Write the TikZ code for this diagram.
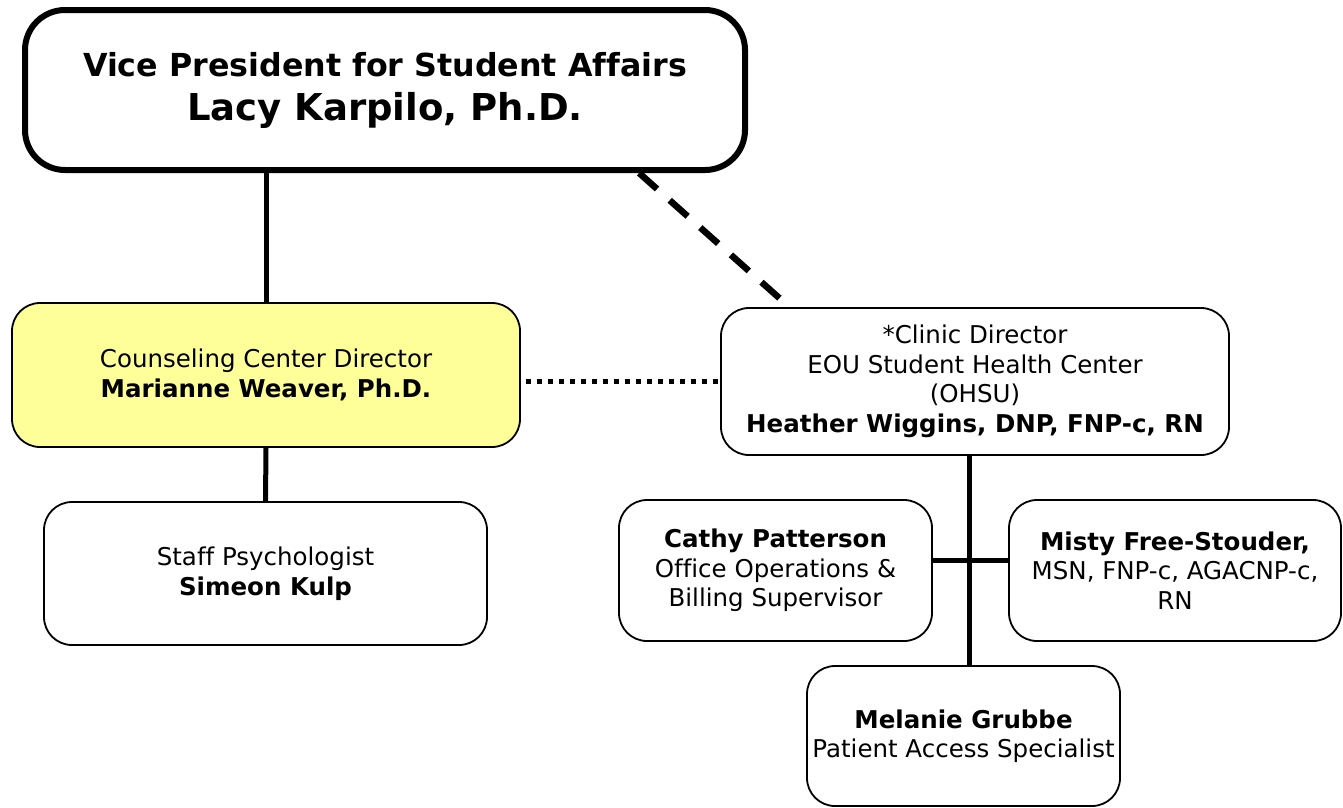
\documentclass[tikz,border=0pt]{standalone}
\usepackage{fontspec}
\setmainfont{DejaVu Sans}[Ligatures=NoCommon]
\usepackage{tikz}
\usetikzlibrary{positioning, calc}

\definecolor{counselyellow}{HTML}{FFFF99}

\begin{document}
\begin{tikzpicture}[
    x=1pt, y=-1pt,
    box/.style={rectangle, draw, line width=1.8pt, rounded corners=28pt, fill=white, align=center, inner sep=0pt, font=\fontsize{24.5}{29.5}\selectfont},
    topbox/.style={box, line width=6pt, rounded corners=40pt, font=\fontsize{31.7}{44}\selectfont\bfseries},
    solidlink/.style={line width=5pt},
    dashlink/.style={line width=6.5pt, dash pattern=on 24pt off 17pt},
    dotlink/.style={line width=5pt, dash pattern=on 5.5pt off 5.5pt}
]

\useasboundingbox (0,0) rectangle (1343,807);

% Top level
\node[topbox, minimum width=720pt, minimum height=160pt] (vp) at (385,90)
    {Vice President for Student Affairs\\{\fontsize{37}{44}\selectfont Lacy Karpilo, Ph.D.}};

% Counseling side
\node[box, fill=counselyellow, minimum width=508pt, minimum height=144pt] (counsel) at (266,375)
    {Counseling Center Director\\\textbf{Marianne Weaver, Ph.D.}};
\node[box, minimum width=443pt, minimum height=143pt] (staff) at (265.5,573.5)
    {Staff Psychologist\\\textbf{Simeon Kulp}};

% Health center side
\node[box, minimum width=508pt, minimum height=147pt] (clinic) at (975,381.5)
    {*Clinic Director\\EOU Student Health Center\\(OHSU)\\\textbf{Heather Wiggins, DNP, FNP-c, RN}};
\node[box, minimum width=313pt, minimum height=141pt] (cathy) at (775.5,570.5)
    {\textbf{Cathy Patterson}\\Office Operations \&\\Billing Supervisor};
\node[box, minimum width=332pt, minimum height=141pt] (misty) at (1175,570.5)
    {\textbf{Misty Free-Stouder,}\\MSN, FNP-c, AGACNP-c,\\RN};
\node[box, minimum width=313pt, minimum height=140pt] (melanie) at (963.5,736)
    {\textbf{Melanie Grubbe}\\Patient Access Specialist};

% Connectors
\draw[solidlink] (counsel.north) -- (counsel.north |- vp.south);
\draw[solidlink] (counsel.south) -- (staff.north);
\draw[dashlink] ($(vp.south west)!0.85!(vp.south east)$) -- ($(clinic.north west)!0.136!(clinic.north east)$);
\draw[dotlink] ([xshift=5pt]counsel.east |- clinic.west) -- (clinic.west);

\coordinate (trunk) at (969,560);
\draw[solidlink] (trunk |- clinic.south) -- (trunk |- melanie.north);
\draw[solidlink] (cathy.east |- trunk) -- (misty.west |- trunk);

\end{tikzpicture}
\end{document}
